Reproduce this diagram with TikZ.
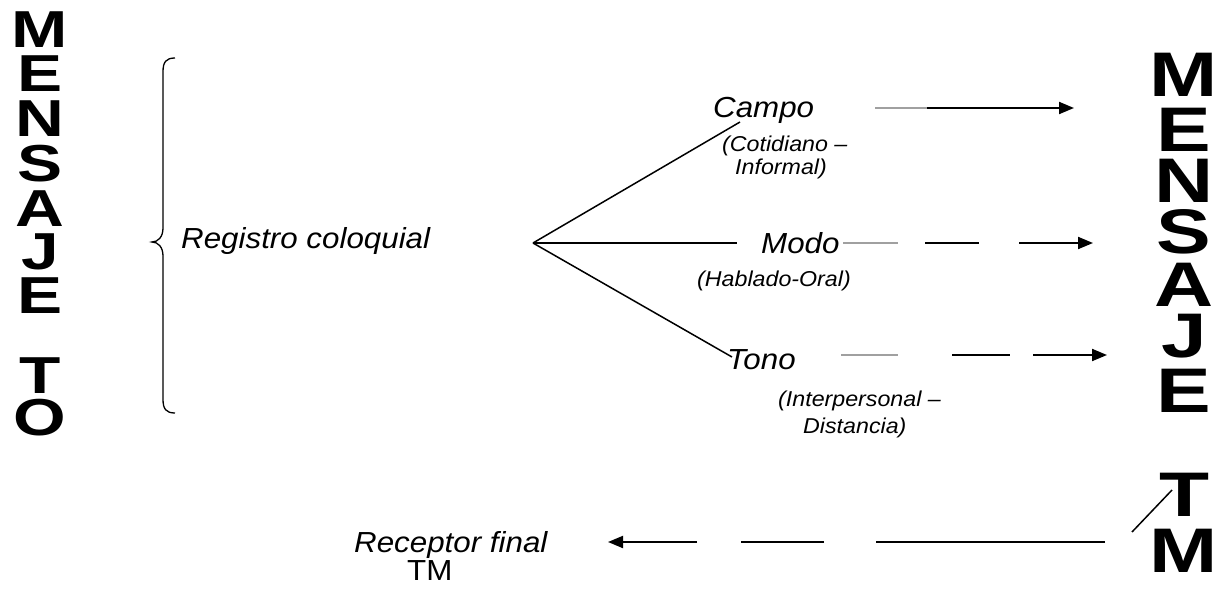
\documentclass[tikz,border=0pt]{standalone}
\usepackage{fontspec}
\setmainfont{Liberation Sans}
\newfontfamily\bodyit[FakeStretch=1.08]{Liberation Sans Italic}
\newfontfamily\bodyup[FakeStretch=1.08]{Liberation Sans}
\newfontfamily\bigleftfont[FakeStretch=1.3]{Liberation Sans Bold}
\newfontfamily\bigrightfont[FakeStretch=1.3]{Liberation Sans Bold}
\usetikzlibrary{arrows.meta}
\definecolor{linegray}{RGB}{160,160,160}
\tikzset{
  bigleft/.style={font=\bigleftfont\fontsize{52}{52}\selectfont, inner sep=0pt, anchor=base},
  bigright/.style={font=\bigrightfont\fontsize{63}{63}\selectfont, inner sep=0pt, anchor=base},
  label/.style={font=\bodyit\fontsize{29}{31}\selectfont, inner sep=0pt, anchor=base west},
  note/.style={font=\bodyit\fontsize{21.5}{23}\selectfont, inner sep=0pt, anchor=base west},
  plain/.style={font=\bodyup\fontsize{29}{31}\selectfont, inner sep=0pt, anchor=base west},
  ln/.style={line width=1.5pt, draw=black},
  grayseg/.style={line width=1.6pt, draw=linegray},
  seg/.style={line width=2pt, draw=black},
  arr/.style={line width=2pt, draw=black, -{Triangle[length=15pt,width=12pt]}},
}
\begin{document}
\begin{tikzpicture}[x=1pt,y=-1pt]
\useasboundingbox (0,0) rectangle (1218,591);

% vertical word on the left
\node[bigleft] (l1) at (40,48)  {M};
\node[bigleft] (l2) at (40,92)  {E};
\node[bigleft] (l3) at (40,136) {N};
\node[bigleft] (l4) at (40,182) {S};
\node[bigleft] (l5) at (40,226) {A};
\node[bigleft] (l6) at (40,269) {J};
\node[bigleft] (l7) at (40,313) {E};
\node[bigleft] (l8) at (40,393) {T};
\node[bigleft] (l9) at (40,435) {O};

% vertical word on the right
\node[bigright] (r1) at (1184,97)  {M};
\node[bigright] (r2) at (1184,151) {E};
\node[bigright] (r3) at (1184,202) {N};
\node[bigright] (r4) at (1184,253) {S};
\node[bigright] (r5) at (1184,306) {A};
\node[bigright] (r6) at (1184,357) {J};
\node[bigright] (r7) at (1184,412) {E};
\node[bigright] (r8) at (1184,516) {T};
\node[bigright] (r9) at (1184,572) {M};

% brace and register
\coordinate (btop) at (175,58);
\coordinate (btip) at (152,242);
\coordinate (bbot) at (175,413);
\draw[line width=1.3pt]
  (btop) .. controls (166,58) and (163,62) .. (163,72)
  -- (163,228) .. controls (163,237) and (158,242) .. (btip)
  .. controls (158,242) and (163,247) .. (163,256)
  -- (163,399) .. controls (163,409) and (166,413) .. (bbot);
\node[label] (reg) at (181,248) {Registro coloquial};

% three branches
\coordinate (fork) at (533,243);
\node[label] (campo) at (713,118) {Campo};
\node[note]  (campo1) at (722,152) {(Cotidiano –};
\node[note]  (campo2) at (735,174) {Informal)};
\node[label] (modo) at (761,253) {Modo};
\node[note]  (modo1) at (697,286) {(Hablado-Oral)};
\node[label] (tono) at (727,369) {Tono};
\node[note]  (tono1) at (778,406) {(Interpersonal –};
\node[note]  (tono2) at (803,433) {Distancia)};

\coordinate (campoin) at (740,122);
\coordinate (modoin) at (737,243);
\coordinate (tonoin) at (732,357);
\draw[ln] (fork) -- (campoin);
\draw[ln] (fork) -- (modoin);
\draw[ln] (fork) -- (tonoin);

% Campo arrow
\coordinate (c1) at (875,108);
\coordinate (c2) at (927,108);
\coordinate (c3) at (1074,108);
\draw[grayseg] (c1) -- (c2);
\draw[arr] (c2) -- (c3);

% Modo arrow
\coordinate (m1) at (843,243);
\coordinate (m2) at (898,243);
\coordinate (m3) at (925,243);
\coordinate (m4) at (979,243);
\coordinate (m5) at (1019,243);
\coordinate (m6) at (1093,243);
\draw[grayseg] (m1) -- (m2);
\draw[seg] (m3) -- (m4);
\draw[arr] (m5) -- (m6);

% Tono arrow
\coordinate (t1) at (841,355);
\coordinate (t2) at (898,355);
\coordinate (t3) at (952,355);
\coordinate (t4) at (1010,355);
\coordinate (t5) at (1033,355);
\coordinate (t6) at (1107,355);
\draw[grayseg] (t1) -- (t2);
\draw[seg] (t3) -- (t4);
\draw[arr] (t5) -- (t6);

% return to the final receiver
\node[label] (rec) at (354,552) {Receptor final};
\node[plain] (rectm) at (407,580) {TM};
\coordinate (b1) at (1105,542);
\coordinate (b2) at (876,542);
\coordinate (b3) at (824,542);
\coordinate (b4) at (741,542);
\coordinate (b5) at (697,542);
\coordinate (b6) at (608,542);
\draw[ln] (b1) -- (b2);
\draw[ln] (b3) -- (b4);
\draw[arr] (b5) -- (b6);
\coordinate (d1) at (1132,532);
\coordinate (d2) at (1172,490);
\draw[ln] (d1) -- (d2);
\end{tikzpicture}
\end{document}
